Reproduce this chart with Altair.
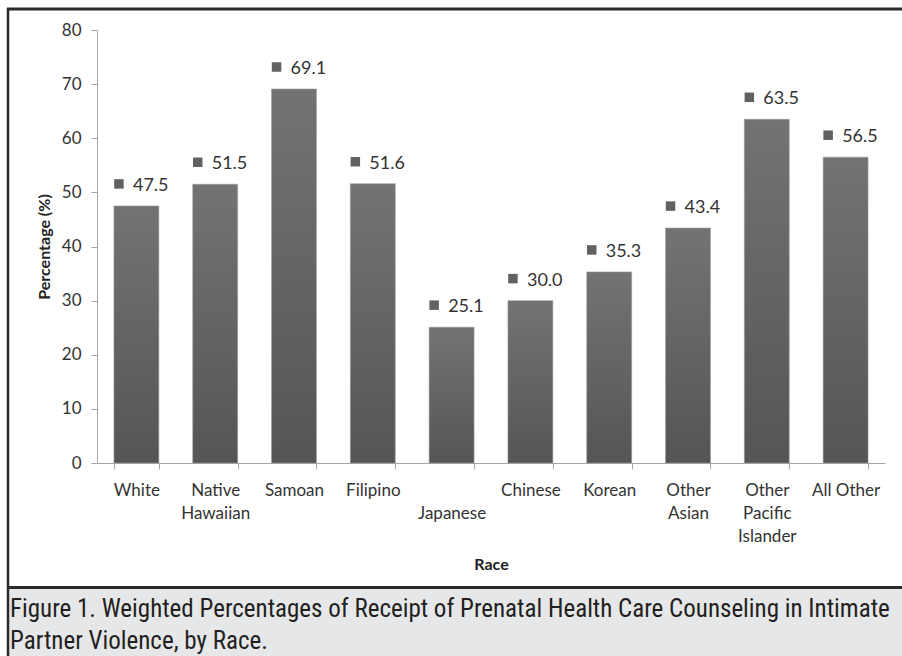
import json
import altair as alt
import pandas as pd

# ---- data ----
categories = ["White", "Native Hawaiian", "Samoan", "Filipino", "Japanese",
              "Chinese", "Korean", "Other Asian", "Other Pacific Islander", "All Other"]
values = [47.5, 51.5, 69.1, 51.6, 25.1, 30.0, 35.3, 43.4, 63.5, 56.5]
label_lines = [["White"], ["Native", "Hawaiian"], ["Samoan"], ["Filipino"], [" ", "Japanese"],
               ["Chinese"], ["Korean"], ["Other", "Asian"], ["Other", "Pacific", "Islander"],
               ["All Other"]]
y_ticks = [0, 10, 20, 30, 40, 50, 60, 70, 80]
caption_lines = [
    "Figure 1. Weighted Percentages of Receipt of Prenatal Health Care Counseling in Intimate",
    "Partner Violence, by Race.",
]

df = pd.DataFrame({"Race": categories, "Pct": values})

# multi-line axis labels
expr = "''"
for c, lines in reversed(list(zip(categories, label_lines))):
    expr = f"datum.value == {json.dumps(c)} ? {json.dumps(lines)} : ({expr})"

FONT = "Lato"
CAP_FONT = "Roboto Condensed, DejaVu Sans Condensed, Liberation Sans Narrow, Liberation Sans"
W, H = 788, 433
PAD_L, PAD_T = 97, 30

x_enc = alt.X("Race:N", sort=categories,
              scale=alt.Scale(paddingInner=0.43, paddingOuter=0.215),
              axis=alt.Axis(title="Race", labelAngle=0, labelExpr=expr,
                            labelLineHeight=23, labelPadding=13, tickBand="extent",
                            tickSize=6, domainColor="#a6a6a6", tickColor="#a6a6a6",
                            labelFont=FONT, labelFontSize=17, labelColor="#333333",
                            titleFont=FONT, titleFontSize=16, titleFontWeight="bold",
                            titleColor="#222222", titlePadding=12, labelBaseline="top"))
y_scale = alt.Scale(domain=[0, 80], nice=False)

bars = alt.Chart(df).mark_bar(
    color=alt.Gradient(gradient="linear",
                       stops=[alt.GradientStop(color="#737373", offset=0),
                              alt.GradientStop(color="#555555", offset=1)],
                       x1=0, x2=0, y1=0, y2=1),
    stroke="#9a9a9a", strokeWidth=0.6
).encode(
    x=x_enc,
    y=alt.Y("Pct:Q", scale=y_scale,
            axis=alt.Axis(title="Percentage (%)", values=y_ticks, grid=False,
                          tickSize=6, domainColor="#a6a6a6", tickColor="#a6a6a6",
                          labelFont=FONT, labelFontSize=17, labelColor="#333333",
                          labelPadding=10, titleFont=FONT, titleFontSize=16,
                          titleFontWeight="bold", titleColor="#222222", titlePadding=9)),
)

squares = alt.Chart(df).mark_square(size=90, color="#616161", yOffset=-22, xOffset=5,
                                    opacity=1).encode(
    x=alt.X("Race:N", sort=categories, bandPosition=0),
    y=alt.Y("Pct:Q", scale=y_scale),
)

texts = alt.Chart(df).mark_text(align="left", baseline="middle", dx=19, dy=-20,
                                font=FONT, fontSize=18, color="#333333").encode(
    x=alt.X("Race:N", sort=categories, bandPosition=0),
    y=alt.Y("Pct:Q", scale=y_scale),
    text=alt.Text("Pct:Q", format=".1f"),
)

# ---- figure frame and caption panel ----
dec = pd.DataFrame({"k": [0]})
cap_box = alt.Chart(dec).mark_rect(color="#e6e7e8").encode(
    x=alt.value(-PAD_L + 8), x2=alt.value(902 - PAD_L + 5),
    y=alt.value(588 - PAD_T), y2=alt.value(660 - PAD_T))
sep = alt.Chart(dec).mark_rule(color="#2a2a2a", strokeWidth=3).encode(
    x=alt.value(-PAD_L + 7), x2=alt.value(902 - PAD_L + 5),
    y=alt.value(587.5 - PAD_T))
top = alt.Chart(dec).mark_rule(color="#2a2a2a", strokeWidth=3).encode(
    x=alt.value(-PAD_L + 7), x2=alt.value(902 - PAD_L + 5),
    y=alt.value(9 - PAD_T))
left = alt.Chart(dec).mark_rule(color="#2a2a2a", strokeWidth=2.5).encode(
    x=alt.value(8 - PAD_L), y=alt.value(8 - PAD_T), y2=alt.value(660 - PAD_T))

cap_df = pd.DataFrame({"line": caption_lines, "i": [0, 1]})
cap1 = alt.Chart(cap_df.iloc[[0]]).mark_text(
    align="left", baseline="alphabetic", font=CAP_FONT,
    fontSize=25, color="#231f20").encode(
    x=alt.value(10 - PAD_L), y=alt.value(617 - PAD_T), text="line:N")
cap2 = alt.Chart(cap_df.iloc[[1]]).mark_text(
    align="left", baseline="alphabetic", font=CAP_FONT,
    fontSize=25, color="#231f20").encode(
    x=alt.value(10 - PAD_L), y=alt.value(649 - PAD_T), text="line:N")

chart = alt.layer(cap_box, sep, top, left, cap1, cap2, bars, squares, texts).properties(
    width=W, height=H,
    autosize=alt.AutoSizeParams(type="none"),
    padding={"left": PAD_L, "top": PAD_T, "right": 902 - PAD_L - W, "bottom": 656 - PAD_T - H},
    background="white",
).configure_view(stroke=None)

chart.save("out.html", embed_options={"renderer": "svg", "actions": False})
